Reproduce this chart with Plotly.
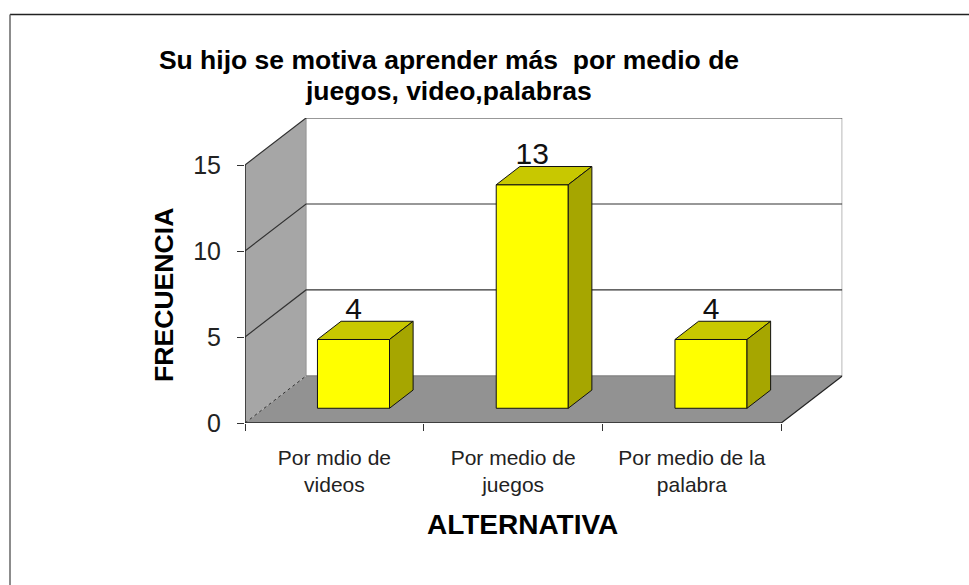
import plotly.graph_objects as go

# Data
categories = ["Por mdio de<br>videos", "Por medio de<br>juegos", "Por medio de la<br>palabra"]
values = [4, 13, 4]
y_ticks = [0, 5, 10, 15]
title_line1 = "Su hijo se motiva aprender más  por medio de"
title_line2 = "juegos, video,palabras"

# Fake 3D: how far the back wall is shifted, in axis units
depth_x = 0.3414
depth_y = 2.736
bar_width = 0.403
bar_near = 0.313   # bar front, as a share of the floor depth
bar_far = 0.70     # bar back
label_drop = 0.3   # labels sink a little behind the bar top

x_range = [0, 3 + depth_x]
y_range = [0, 15 + depth_y]
n = len(categories)
y_top = y_ticks[-1]

fig = go.Figure()


def poly(xs, ys, fill, line_color=None, width=1, dash=None, axes="xy", closed=True):
    fig.add_trace(go.Scatter(
        x=xs, y=ys,
        mode="lines",
        fill="toself" if closed else None,
        fillcolor=fill,
        line=dict(color=line_color or "rgba(0,0,0,0)", width=width, dash=dash),
        xaxis="x" if axes == "xy" else "x2",
        yaxis="y" if axes == "xy" else "y2",
        hoverinfo="skip",
        showlegend=False,
        cliponaxis=False,
    ))


# Walls and floor
poly([depth_x, n + depth_x, n + depth_x, depth_x, depth_x],
     [depth_y, depth_y, y_top + depth_y, y_top + depth_y, depth_y], "#ffffff")
poly([0, depth_x, depth_x, 0, 0], [0, depth_y, y_top + depth_y, y_top, 0], "#a6a6a6")
poly([0, n, n + depth_x, depth_x, 0], [0, 0, depth_y, depth_y, 0], "#929292")

# Wall edges
poly([depth_x, depth_x], [depth_y, y_top + depth_y], None, "#999999", 1.2, closed=False)
poly([n + depth_x, n + depth_x], [depth_y, y_top + depth_y], None, "#a0a0a0", 1.5, closed=False)
poly([depth_x, n + depth_x], [depth_y, depth_y], None, "#808080", 1.2, closed=False)

# Grid lines run along the side wall and then the back wall
for v in y_ticks[1:]:
    poly([0, depth_x, n + depth_x], [v, v + depth_y, v + depth_y], None, "#333333", 1.2, closed=False)

poly([0, depth_x], [0, depth_y], None, "#333333", 1, "dot", closed=False)
poly([n, n + depth_x], [0, depth_y], None, "#222222", 1.2, closed=False)

# Axis lines stop at the front of the box
poly([0, n], [0, 0], None, "#222222", 1.5, closed=False)
poly([0, 0], [0, y_top], None, "#222222", 1.5, closed=False)

# Front faces of the bars
centers = [i + 0.5 + bar_near * depth_x for i in range(n)]
fig.add_trace(go.Bar(
    x=centers,
    y=values,
    base=bar_near * depth_y,
    width=bar_width,
    marker=dict(color="#ffff00", line=dict(color="#111111", width=1)),
    xaxis="x2",
    yaxis="y2",
    showlegend=False,
))

# Data labels go under the bar tops, the reference cuts them off the same way
fig.add_trace(go.Scatter(
    x=centers,
    y=[v + bar_far * depth_y - label_drop for v in values],
    mode="text",
    text=[str(v) for v in values],
    textposition="top center",
    textfont=dict(family="Liberation Sans", size=30, color="#111111"),
    xaxis="x2",
    yaxis="y2",
    hoverinfo="skip",
    showlegend=False,
    cliponaxis=False,
))

# Top and side faces of the bars
shift_x = (bar_far - bar_near) * depth_x
shift_y = (bar_far - bar_near) * depth_y
for c, v in zip(centers, values):
    left = c - bar_width / 2
    right = c + bar_width / 2
    base = bar_near * depth_y
    top = base + v
    poly([left, right, right + shift_x, left + shift_x, left],
         [top, top, top + shift_y, top + shift_y, top],
         "#c8c800", "#111111", 1, axes="x2y2")
    poly([right, right + shift_x, right + shift_x, right, right],
         [base, base + shift_y, top + shift_y, top, base],
         "#a6a600", "#111111", 1, axes="x2y2")

fig.update_layout(
    width=969,
    height=585,
    margin=dict(l=0, r=0, t=0, b=0, autoexpand=False),
    paper_bgcolor="white",
    plot_bgcolor="rgba(0,0,0,0)",
    font=dict(family="Liberation Sans", color="#111111"),
    showlegend=False,
    title=dict(
        text="<b>" + title_line1 + "</b>",
        x=449 / 969,
        xanchor="center",
        y=1 - 60 / 585,
        yanchor="middle",
        font=dict(family="Liberation Sans", size=26.5, color="#000000"),
    ),
    xaxis=dict(
        domain=[245 / 969, 842.3 / 969],
        range=x_range,
        showgrid=False,
        zeroline=False,
        showline=False,
        tickmode="array",
        tickvals=[i + 0.5 for i in range(n)],
        ticktext=categories,
        ticks="",
        ticklabelstandoff=20,
        tickfont=dict(size=21, color="#222222"),
        minor=dict(tickmode="array", tickvals=list(range(n + 1)), ticks="outside",
                   ticklen=7, tickcolor="#333333", tickwidth=1, showgrid=False),
    ),
    yaxis=dict(
        domain=[162 / 585, 467 / 585],
        range=y_range,
        showgrid=False,
        zeroline=False,
        showline=False,
        tickmode="array",
        tickvals=y_ticks,
        ticks="outside",
        ticklen=7,
        tickcolor="#333333",
        ticklabelstandoff=11,
        tickfont=dict(size=25, color="#222222"),
    ),
    xaxis2=dict(overlaying="x", domain=[245 / 969, 842.3 / 969], range=x_range, visible=False),
    yaxis2=dict(overlaying="y", domain=[162 / 585, 467 / 585], range=y_range, visible=False),
    annotations=[
        dict(text="<b>" + title_line2 + "</b>", xref="paper", yref="paper", x=448 / 969, y=1 - 91 / 585,
             xanchor="center", yanchor="middle", showarrow=False, font=dict(size=26.5, color="#000000")),
        dict(text="<b>ALTERNATIVA</b>", xref="paper", yref="paper", x=522 / 969, y=1 - 524 / 585,
             xanchor="center", yanchor="middle", showarrow=False, font=dict(size=28, color="#000000")),
        dict(text="<b>FRECUENCIA</b>", xref="paper", yref="paper", x=164 / 969, y=1 - 295 / 585,
             xanchor="center", yanchor="middle", textangle=-90, showarrow=False,
             font=dict(size=26.6, color="#000000")),
    ],
    shapes=[
        dict(type="line", xref="paper", yref="paper", x0=10 / 969, x1=1, y0=1 - 14.5 / 585, y1=1 - 14.5 / 585,
             line=dict(color="#222222", width=1.5)),
        dict(type="line", xref="paper", yref="paper", x0=10 / 969, x1=10 / 969, y0=0, y1=1 - 14.5 / 585,
             line=dict(color="#666666", width=1.5)),
    ],
)

fig.write_html("out.html", config={"displayModeBar": False},
               post_script="document.body.style.margin = '0';")
